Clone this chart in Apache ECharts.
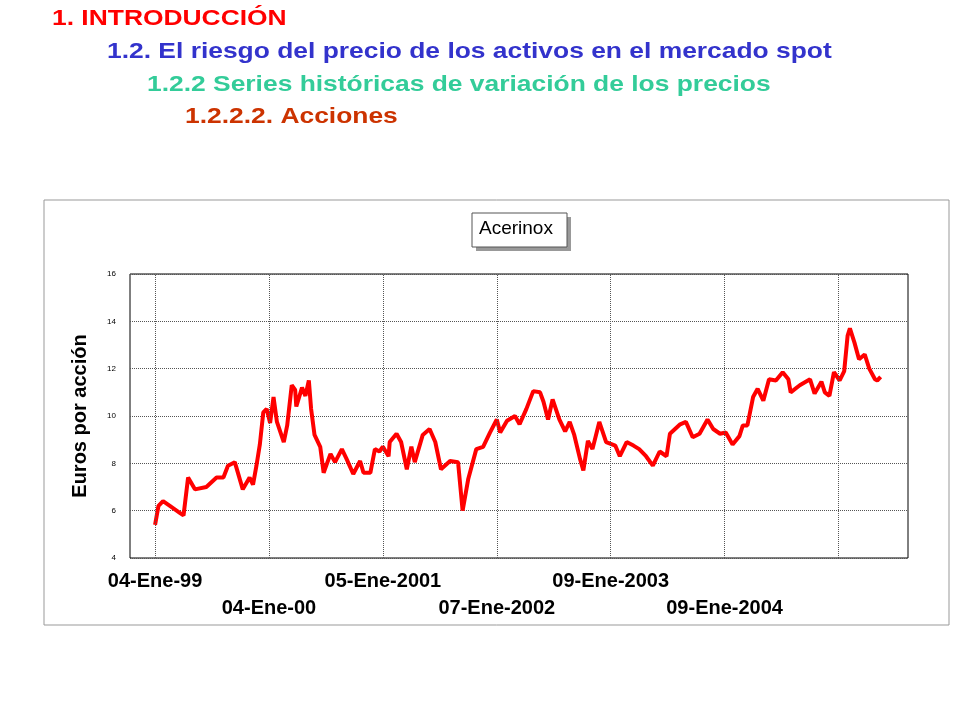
<!DOCTYPE html>
<html><head><meta charset="utf-8">
<script src="https://cdn.jsdelivr.net/npm/echarts@6/dist/echarts.min.js"></script>
<style>html,body{margin:0;background:#fff}#c{width:960px;height:720px}</style></head>
<body><div id="c"></div>
<script>
const tickLabels=['04-Ene-99','04-Ene-00','05-Ene-2001','07-Ene-2002','09-Ene-2003','09-Ene-2004','07-Ene-2005'];
const tickPos=[0,1,2,3,4,5,6];
const years=[0.00,0.03,0.07,0.13,0.22,0.25,0.29,0.35,0.45,0.54,0.60,0.64,0.70,0.77,0.83,0.86,0.89,0.92,0.95,0.98,1.01,1.04,1.07,1.13,1.16,1.20,1.23,1.24,1.29,1.32,1.35,1.37,1.40,1.45,1.48,1.54,1.58,1.64,1.68,1.74,1.80,1.83,1.89,1.93,1.97,2.00,2.05,2.06,2.12,2.16,2.21,2.25,2.28,2.35,2.41,2.46,2.51,2.59,2.66,2.70,2.75,2.82,2.88,2.94,3.00,
3.03,3.09,3.16,3.20,3.26,3.32,3.38,3.41,3.45,3.49,3.55,3.60,3.64,3.68,3.73,3.76,3.80,3.84,3.90,3.96,4.04,4.08,4.14,4.20,4.25,4.31,4.37,4.43,4.49,4.52,4.61,4.66,4.72,4.78,4.85,4.90,4.96,5.01,5.07,5.13,5.16,5.20,5.25,5.29,5.34,5.39,5.45,5.51,5.56,5.58,5.66,5.75,5.79,5.85,5.88,5.92,5.96,6.01,6.05,6.08,6.10,6.14,6.18,6.23,6.27,6.32,6.34,6.37];
const prices=[5.4,6.2,6.4,6.2,5.9,5.8,7.4,6.9,7.0,7.4,7.4,7.9,8.05,6.9,7.4,7.1,7.9,8.8,10.15,10.3,9.7,10.8,9.75,8.9,9.6,11.3,11.1,10.4,11.2,10.85,11.5,10.3,9.2,8.7,7.6,8.4,8.05,8.6,8.2,7.55,8.1,7.6,7.6,8.6,8.5,8.7,8.3,8.9,9.25,8.9,7.75,8.7,8.05,9.2,9.45,8.9,7.75,8.1,8.05,6.0,7.35,8.6,8.7,9.3,9.85,
9.3,9.8,10.0,9.65,10.3,11.05,11.0,10.6,9.85,10.7,9.85,9.35,9.75,9.2,8.2,7.7,8.95,8.6,9.75,8.9,8.75,8.3,8.9,8.75,8.6,8.3,7.9,8.5,8.3,9.25,9.65,9.75,9.1,9.25,9.85,9.45,9.25,9.3,8.8,9.15,9.6,9.6,10.8,11.15,10.65,11.55,11.5,11.85,11.55,11.0,11.3,11.55,10.95,11.45,11.0,10.85,11.85,11.5,11.9,13.4,13.7,13.1,12.4,12.6,12.0,11.55,11.5,11.65];
const yTicks=[4,6,8,10,12,14,16];
const F='"Liberation Sans", Arial, sans-serif';
const chart=echarts.init(document.getElementById('c'));
const hd=(t,x,y,c)=>({type:'text',x:x,y:y,scaleX:1.2,style:{text:t,font:'bold 22px '+F,fill:c}});
chart.setOption({
  animation:false,
  grid:{left:130,right:52,top:274,bottom:162,show:true,borderColor:'#000',borderWidth:1},
  xAxis:{type:'value',min:-0.22,max:6.61,
    axisLine:{show:false},splitLine:{show:false},
    axisTick:{show:false},
    axisLabel:{customValues:tickPos,fontFamily:F,fontWeight:'bold',fontSize:20,color:'#000',margin:10,
      formatter:(v)=>{const i=Math.round(v);return i%2?'\n'+tickLabels[i]:tickLabels[i];},lineHeight:27}},
  yAxis:{type:'value',min:yTicks[0],max:yTicks[yTicks.length-1],interval:2,
    name:'Euros por acción',nameLocation:'middle',nameGap:40,
    nameTextStyle:{fontFamily:F,fontWeight:'bold',fontSize:20,color:'#000'},
    axisLine:{show:false},axisTick:{show:false},
    axisLabel:{fontSize:8,color:'#000',fontFamily:F,margin:14},
    splitLine:{lineStyle:{type:'dotted',color:'#555'}}},
  series:[{type:'line',data:years.map((y,i)=>[y,prices[i]]),showSymbol:false,
    lineStyle:{color:'#ff0000',width:4},
    markLine:{silent:true,symbol:'none',label:{show:false},lineStyle:{type:'dotted',color:'#555',width:1},
      data:tickPos.map(v=>({xAxis:v}))}}],
  graphic:[
    {type:'rect',shape:{x:44,y:200,width:905,height:425},style:{fill:'none',stroke:'#999',lineWidth:1}},
    {type:'rect',shape:{x:476,y:217,width:95,height:34},style:{fill:'#999'}},
    {type:'rect',shape:{x:472,y:213,width:95,height:34},style:{fill:'#fff',stroke:'#555',lineWidth:1}},
    {type:'text',left:479,top:219,style:{text:'Acerinox',font:'19px '+F,fill:'#000'}},
    hd('1. INTRODUCCIÓN',52,8,'#ff0000'),
    hd('1.2. El riesgo del precio de los activos en el mercado spot',107,41,'#3333cc'),
    hd('1.2.2 Series históricas de variación de los precios',147,74,'#33cc99'),
    hd('1.2.2.2. Acciones',185,106,'#cc3300')
  ]
});
</script></body></html>
